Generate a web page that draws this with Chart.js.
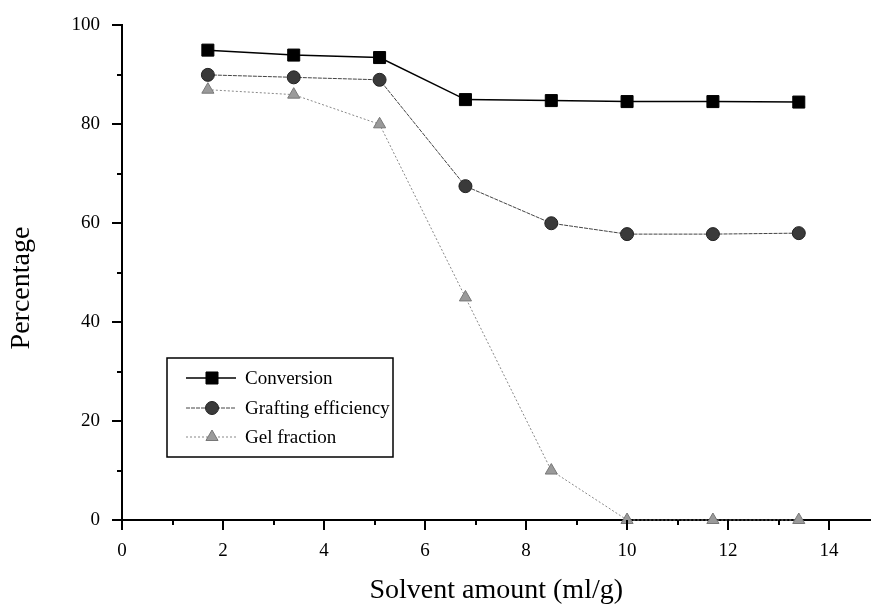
<!DOCTYPE html>
<html>
<head>
<meta charset="utf-8">
<script src="https://cdn.jsdelivr.net/npm/chart.js@4.4.0/dist/chart.umd.min.js"></script>
<style>
  html, body { margin: 0; padding: 0; background: #fff; }
  #wrap { width: 880px; height: 604px; position: relative; }
</style>
</head>
<body>
<div id="wrap"><canvas id="chart"></canvas></div>
<script>
// data
let solvent = [1.7, 3.4, 5.1, 6.8, 8.5, 10.0, 11.7, 13.4];
let conversion = [95, 94, 93.5, 85, 84.8, 84.6, 84.6, 84.5];
let grafting = [90, 89.5, 89, 67.5, 60, 57.8, 57.8, 58];
let gelFraction = [87, 86, 80, 45, 10, 0, 0, 0];
let seriesNames = ["Conversion", "Grafting efficiency", "Gel fraction"];
let xTickLabels = [0, 2, 4, 6, 8, 10, 12, 14];
let yTickLabels = [0, 20, 40, 60, 80, 100];

function toPoints(ys){
    return solvent.map((x, i) => ({x: x, y: ys[i]}));
}

const serif = "'Liberation Serif', 'DejaVu Serif', serif";

// outward ticks, major + minor, drawn on the library's scales
let tickPlugin = {
    id: "ticks",
    afterDraw(chart){
        let ctx = chart.ctx;
        let area = chart.chartArea;
        let xs = chart.scales.x, ys = chart.scales.y;
        ctx.save();
        ctx.strokeStyle = "#000";
        ctx.lineWidth = 2;
        for(let v = 0; v <= 14; v++){
            let px = Math.round(xs.getPixelForValue(v));
            let len = (v % 2 == 0) ? 10 : 5;
            ctx.beginPath();
            ctx.moveTo(px, area.bottom);
            ctx.lineTo(px, area.bottom + len);
            ctx.stroke();
        }
        for(let v = 0; v <= 100; v += 10){
            let py = Math.round(ys.getPixelForValue(v));
            let len = (v % 20 == 0) ? 10 : 5;
            ctx.beginPath();
            ctx.moveTo(area.left, py);
            ctx.lineTo(area.left - len, py);
            ctx.stroke();
        }
        // y axis title, sits a bit below the middle in the original
        ctx.translate(22, 288);
        ctx.rotate(-Math.PI / 2);
        ctx.fillStyle = "#000";
        ctx.font = "28px " + serif;
        ctx.textAlign = "center";
        ctx.textBaseline = "middle";
        ctx.fillText("Percentage", 0, 0);
        ctx.restore();
    }
};

// boxed legend with line-marker-line samples
let legendPlugin = {
    id: "boxLegend",
    afterDraw(chart){
        let ctx = chart.ctx;
        let bx = 167, by = 358, bw = 226, bh = 99;
        ctx.save();
        ctx.fillStyle = "#fff";
        ctx.fillRect(bx, by, bw, bh);
        ctx.strokeStyle = "#000";
        ctx.lineWidth = 1.5;
        ctx.strokeRect(bx, by, bw, bh);
        let rows = [378, 408, 437];
        chart.data.datasets.forEach((ds, i) => {
            let y = rows[i];
            let mx = 212;
            ctx.strokeStyle = ds.borderColor;
            ctx.lineWidth = ds.borderWidth;
            ctx.setLineDash(ds.borderDash || []);
            ctx.beginPath();
            ctx.moveTo(186, y); ctx.lineTo(236, y);
            ctx.stroke();
            ctx.setLineDash([]);
            ctx.fillStyle = ds.pointBackgroundColor;
            ctx.strokeStyle = ds.pointBorderColor;
            ctx.lineWidth = 1;
            Chart.helpers.drawPoint(ctx, {
                pointStyle: ds.pointStyle,
                radius: ds.pointRadius,
                borderWidth: 1,
                rotation: 0
            }, mx, y);
            ctx.fillStyle = "#000";
            ctx.font = "19px " + serif;
            ctx.textBaseline = "middle";
            ctx.fillText(ds.label, 245, y + 1);
        });
        ctx.restore();
    }
};

let chart = new Chart(document.getElementById("chart"), {
    type: "scatter",
    data: {
        datasets: [
            {
                label: seriesNames[0],
                data: toPoints(conversion),
                showLine: true,
                clip: false,
                borderColor: "#000",
                borderWidth: 1.5,
                pointStyle: "rect",
                pointRadius: 8.5,
                pointBackgroundColor: "#000",
                pointBorderColor: "#000",
                pointBorderWidth: 1
            },
            {
                label: seriesNames[1],
                data: toPoints(grafting),
                showLine: true,
                clip: false,
                borderColor: "#444",
                borderWidth: 1,
                borderDash: [4, 1],
                pointStyle: "circle",
                pointRadius: 6.5,
                pointBackgroundColor: "#3a3a3a",
                pointBorderColor: "#222",
                pointBorderWidth: 1
            },
            {
                label: seriesNames[2],
                data: toPoints(gelFraction),
                showLine: true,
                clip: false,
                borderColor: "#888",
                borderWidth: 1,
                borderDash: [2, 2],
                pointStyle: "triangle",
                pointRadius: 7,
                pointBackgroundColor: "#9a9a9a",
                pointBorderColor: "#777",
                pointBorderWidth: 1
            }
        ]
    },
    options: {
        responsive: true,
        maintainAspectRatio: false,
        animation: false,
        layout: { padding: { top: 12, right: 2, left: 0, bottom: 0 } },
        plugins: {
            legend: { display: false },
            tooltip: { enabled: false }
        },
        scales: {
            x: {
                type: "linear",
                min: 0,
                max: 14.82,
                afterFit(scale){ scale.height = 84; },
                afterBuildTicks(scale){
                    scale.ticks = xTickLabels.map(v => ({value: v}));
                },
                ticks: {
                    color: "#000",
                    padding: 12,
                    maxRotation: 0,
                    autoSkip: false,
                    font: { family: serif, size: 19 }
                },
                grid: { display: false },
                border: { display: true, color: "#000", width: 2 },
                title: {
                    display: true,
                    text: "Solvent amount (ml/g)",
                    color: "#000",
                    font: { family: serif, size: 28 },
                    padding: { top: 0, bottom: -3 }
                }
            },
            y: {
                min: 0,
                max: 100,
                afterFit(scale){ scale.width = 122; },
                afterBuildTicks(scale){
                    scale.ticks = yTickLabels.map(v => ({value: v}));
                },
                ticks: {
                    color: "#000",
                    padding: 14,
                    autoSkip: false,
                    font: { family: serif, size: 19 }
                },
                grid: { display: false },
                border: { display: true, color: "#000", width: 2 }
            }
        }
    },
    plugins: [tickPlugin, legendPlugin]
});
</script>
</body>
</html>
